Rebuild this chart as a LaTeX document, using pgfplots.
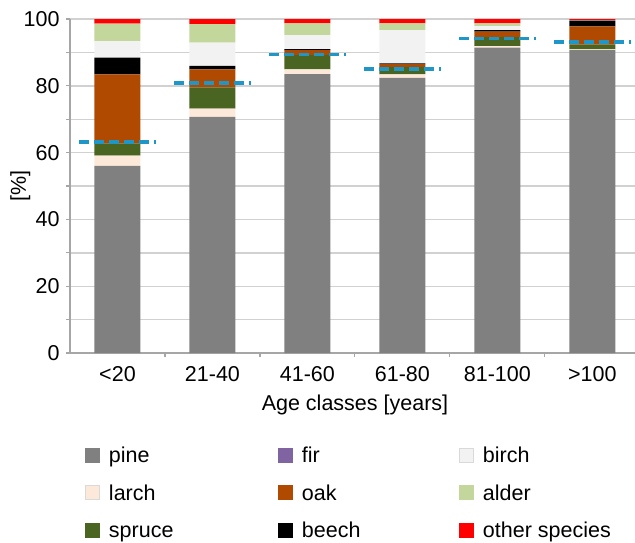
\documentclass[border=0pt]{standalone}
\usepackage{fontspec}
\setmainfont{Liberation Sans}
\usepackage{pgfplots}
\pgfplotsset{compat=1.18}
\definecolor{cpine}{HTML}{808080}
\definecolor{clarch}{HTML}{FDE9D9}
\definecolor{cspruce}{HTML}{4A6422}
\definecolor{cfir}{HTML}{8064A2}
\definecolor{coak}{HTML}{B04A00}
\definecolor{cbeech}{HTML}{000000}
\definecolor{cbirch}{HTML}{F2F2F2}
\definecolor{calder}{HTML}{C3D69B}
\definecolor{cother}{HTML}{FF0000}
\definecolor{cdash}{HTML}{1E96C8}
\newcommand{\fs}{\fontsize{21.5}{25}\selectfont}
\newcommand{\ls}{\fontsize{21.5}{25}\selectfont}
\begin{document}
\begin{tikzpicture}
\begin{axis}[
  at={(0pt,0pt)}, anchor=south west,
  scale only axis, width=565pt, height=334pt,
  ybar stacked, bar width=46pt,
  xmin=-0.5, xmax=5.45, ymin=0, ymax=100,
  axis lines*=left,
  axis line style={black!35, line width=1.2pt},
  xtick={0,1,2,3,4,5},
  xticklabels={<20,21-40,41-60,61-80,81-100,>100},
  minor xtick={0.5,1.5,2.5,3.5,4.5},
  major x tick style={draw=none},
  minor x tick style={black!35, line width=1.2pt},
  ytick={0,20,...,100}, minor ytick={10,30,...,90},
  tick align=outside, major tick length=4pt, minor tick length=4pt,
  y tick style={black!35, line width=1.2pt},
  ymajorgrids, yminorgrids,
  major grid style={black!18, line width=1.4pt},
  minor grid style={black!18, line width=1.4pt},
  /pgf/number format/assume math mode=true,
  tick label style={font=\fs},
  xticklabel style={yshift=-6pt},
  yticklabel style={xshift=-3pt},
  label style={font=\fs},
  xlabel={Age classes [years]},
  ylabel={[\%]},
  xlabel style={at={(axis description cs:0.5044,-0.1557)}, anchor=center},
  ylabel style={at={(axis description cs:-0.088,0.5)}, anchor=center},
  legend columns=3, transpose legend,
  legend cell align=left,
  legend style={draw=none, fill=none, inner sep=0pt, outer sep=0pt,
    at={(axis description cs:0.02655,-0.2510)}, anchor=north west,
    column sep=0pt, row sep=0pt, font=\ls,
    nodes={inner sep=0pt, outer sep=0pt, text height=26.1pt, text depth=11.2pt}},
  legend image code/.code={\fill[#1] (0pt,-7.5pt) rectangle (15pt,7.5pt); \path (24pt,0pt);},
]
\addplot[fill=cpine, draw=none] coordinates {(0,56.0) (1,70.7) (2,83.5) (3,82.4) (4,91.4) (5,90.7)};
\addlegendentry{\makebox[169pt][l]{pine}}
\addplot[fill=clarch, draw=none,
  legend image code/.code={\filldraw[fill=clarch, draw=black!15, line width=0.8pt] (0.4pt,-7.1pt) rectangle (14.6pt,7.1pt); \path (24pt,0pt);}]
  coordinates {(0,3.1) (1,2.5) (2,1.4) (3,1.0) (4,0.5) (5,0.2)};
\addlegendentry{\makebox[169pt][l]{larch}}
\addplot[fill=cspruce, draw=none] coordinates {(0,3.7) (1,6.3) (2,4.3) (3,2.3) (4,2.7) (5,1.4)};
\addlegendentry{\makebox[169pt][l]{spruce}}
\addplot[fill=cfir, draw=none] coordinates {(0,0) (1,0) (2,0) (3,0) (4,0) (5,0)};
\addlegendentry{\makebox[157pt][l]{fir}}
\addplot[fill=coak, draw=none] coordinates {(0,20.6) (1,5.4) (2,1.5) (3,0.8) (4,1.6) (5,5.5)};
\addlegendentry{\makebox[157pt][l]{oak}}
\addplot[fill=cbeech, draw=none] coordinates {(0,5.0) (1,1.1) (2,0.3) (3,0.2) (4,0.5) (5,1.7)};
\addlegendentry{\makebox[157pt][l]{beech}}
\addplot[fill=cbirch, draw=none,
  legend image code/.code={\filldraw[fill=cbirch, draw=black!15, line width=0.8pt] (0.4pt,-7.1pt) rectangle (14.6pt,7.1pt); \path (24pt,0pt);}]
  coordinates {(0,5.0) (1,6.9) (2,4.2) (3,10.0) (4,1.2) (5,0.1)};
\addlegendentry{birch}
\addplot[fill=calder, draw=none] coordinates {(0,5.2) (1,5.6) (2,3.5) (3,2.0) (4,0.8) (5,0.0)};
\addlegendentry{alder}
\addplot[fill=cother, draw=none] coordinates {(0,1.4) (1,1.5) (2,1.3) (3,1.3) (4,1.3) (5,0.4)};
\addlegendentry{other species}
\end{axis}
\begin{axis}[
  at={(0pt,0pt)}, anchor=south west,
  scale only axis, width=565pt, height=334pt,
  xmin=-0.5, xmax=5.45, ymin=0, ymax=100,
  axis lines=none, ticks=none,
]
\addplot[cdash, line width=3.5pt, dash pattern=on 10pt off 5pt] coordinates {(-0.405,63.1) (0.405,63.1)};
\addplot[cdash, line width=3.5pt, dash pattern=on 10pt off 5pt] coordinates {(0.595,80.9) (1.405,80.9)};
\addplot[cdash, line width=3.5pt, dash pattern=on 10pt off 5pt] coordinates {(1.595,89.4) (2.405,89.4)};
\addplot[cdash, line width=3.5pt, dash pattern=on 10pt off 5pt] coordinates {(2.595,85.0) (3.405,85.0)};
\addplot[cdash, line width=3.5pt, dash pattern=on 10pt off 5pt] coordinates {(3.595,94.2) (4.405,94.2)};
\addplot[cdash, line width=3.5pt, dash pattern=on 10pt off 5pt] coordinates {(4.595,93.1) (5.405,93.1)};
\end{axis}
\pgfresetboundingbox
\path[use as bounding box] (-70pt,-189pt) rectangle (565pt,353pt);
\end{tikzpicture}
\end{document}
